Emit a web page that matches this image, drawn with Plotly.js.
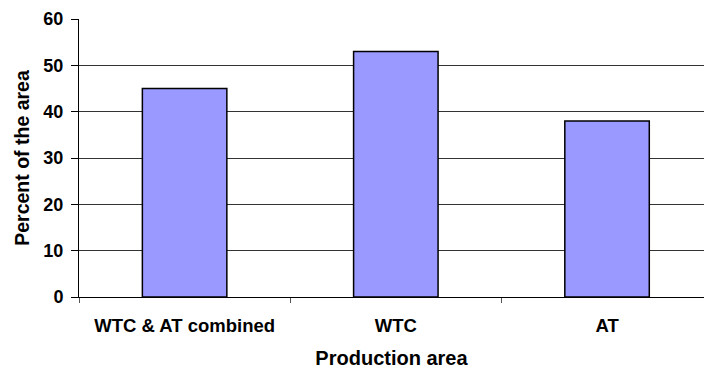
<!DOCTYPE html>
<html>
<head>
<meta charset="utf-8">
<script src="https://cdn.plot.ly/plotly-3.0.1.min.js"></script>
<style>
  html, body { margin: 0; padding: 0; background: #ffffff; }
  #chart { width: 704px; height: 369px; }
</style>
</head>
<body>
<div id="chart"></div>
<script>
// Share of each production area
const categories = ['WTC & AT combined', 'WTC', 'AT'];
const percentValues = [45, 53, 38];
const yTickValues = [0, 10, 20, 30, 40, 50, 60];

const FONT = 'Liberation Sans, Arial, sans-serif';

const trace = {
  type: 'bar',
  x: categories,
  y: percentValues,
  width: 0.4,
  marker: {
    color: '#9999ff',
    line: { color: '#000000', width: 1.5 }
  },
  hoverinfo: 'x+y'
};

const layout = {
  width: 704,
  height: 369,
  margin: { l: 79, r: 0, t: 19, b: 72, pad: 0 },
  paper_bgcolor: '#ffffff',
  plot_bgcolor: '#ffffff',
  showlegend: false,
  font: { family: FONT, color: '#000000' },
  xaxis: {
    type: 'category',
    range: [-0.5, 2.459],
    showline: true,
    linecolor: '#000000',
    linewidth: 1,
    showgrid: false,
    ticks: 'outside',
    tickson: 'boundaries',
    ticklen: 5,
    tickcolor: '#555555',
    ticklabelstandoff: 12,
    tickfont: { family: FONT, size: 18.5, color: '#000000', weight: 'bold' },
    title: {
      text: '<b>Production area</b>',
      font: { family: FONT, size: 20, color: '#000000' },
      standoff: 28
    },
    automargin: false,
    fixedrange: true
  },
  yaxis: {
    range: [0, 60],
    tickvals: yTickValues,
    showline: true,
    linecolor: '#000000',
    linewidth: 1,
    showgrid: true,
    gridcolor: '#333333',
    gridwidth: 1,
    zeroline: false,
    ticks: 'outside',
    ticklen: 7,
    tickcolor: '#000000',
    ticklabelstandoff: 4,
    tickfont: { family: FONT, size: 18, color: '#000000', weight: 'bold' },
    title: {
      text: '<b>Percent of the area</b>',
      font: { family: FONT, size: 19.5, color: '#000000' },
      standoff: 8
    },
    automargin: false,
    fixedrange: true
  }
};

Plotly.newPlot('chart', [trace], layout, { displayModeBar: false, staticPlot: true });
</script>
</body>
</html>
